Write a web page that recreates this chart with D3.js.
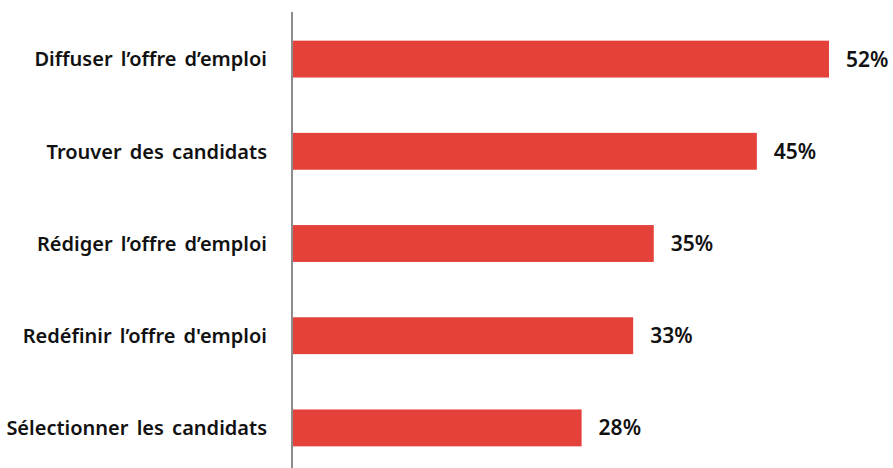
<!DOCTYPE html>
<html>
<head>
<meta charset="utf-8">
<script src="https://cdn.jsdelivr.net/npm/d3@7"></script>
<style>
  body { margin: 0; background: #fff; }
  svg text { font-family: "Noto Sans", sans-serif; font-weight: 600; fill: #111; }
</style>
</head>
<body>
<div id="chart"></div>
<script>
// data
var categories = [
  'Diffuser l\u2019offre d\u2019emploi',
  'Trouver des candidats',
  'R\u00e9diger l\u2019offre d\u2019emploi',
  'Red\u00e9finir l\u2019offre d\'emploi',
  'S\u00e9lectionner les candidats'
];
var values = [52, 45, 35, 33, 28];

var width = 893;
var height = 468;
var barColor = '#e5413b';
var axisColor = '#8c8c8c';

var svg = d3.select('#chart').append('svg')
  .attr('width', width)
  .attr('height', height);

var x = d3.scaleLinear()
  .domain([0, 52])
  .range([293, 829]);

var y = d3.scaleBand()
  .domain(categories)
  .range([13, 474])
  .paddingInner(0.6)
  .paddingOuter(0.3);

// bars
svg.selectAll('.bar')
  .data(values)
  .enter()
  .append('rect')
  .attr('class', 'bar')
  .attr('x', x(0))
  .attr('y', function (d, i) { return y(categories[i]); })
  .attr('width', function (d) { return x(d) - x(0); })
  .attr('height', y.bandwidth())
  .style('fill', barColor);

// value labels
svg.selectAll('.val')
  .data(values)
  .enter()
  .append('text')
  .attr('class', 'val')
  .attr('x', function (d) { return x(d) + 17; })
  .attr('y', function (d, i) { return y(categories[i]) + y.bandwidth() / 2; })
  .attr('dy', '0.36em')
  .style('font-size', '21px')
  .text(function (d) { return d + '%'; });

// category labels
svg.selectAll('.cat')
  .data(categories)
  .enter()
  .append('text')
  .attr('class', 'cat')
  .attr('x', 267)
  .attr('y', function (d) { return y(d) + y.bandwidth() / 2; })
  .attr('dy', '0.36em')
  .attr('text-anchor', 'end')
  .style('font-size', '20px')
  .style('word-spacing', '3px')
  .text(function (d) { return d; });

// vertical axis line
svg.append('line')
  .attr('x1', 292).attr('x2', 292)
  .attr('y1', 12).attr('y2', height)
  .style('stroke', axisColor)
  .style('stroke-width', 2);
</script>
</body>
</html>
